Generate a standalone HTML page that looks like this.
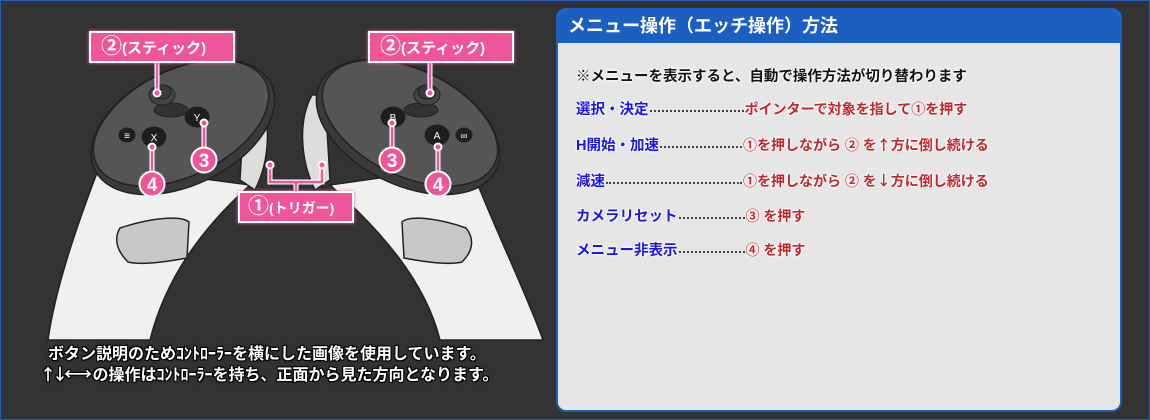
<!DOCTYPE html>
<html><head><meta charset="utf-8"><style>
body{margin:0;width:1150px;height:420px;background:#333;overflow:hidden;position:relative;font-family:"Liberation Sans","Noto Sans CJK JP",sans-serif;}
.frame{position:absolute;left:0;top:0;width:1148px;height:418px;border:1px solid #2a5bb8;}
.panel{position:absolute;left:556px;top:8px;width:562px;height:400px;border:2px solid #1b5fc1;border-radius:10px;background:#e6e6e6;overflow:hidden;}
.hdr{height:33px;background:#1b5fc1;color:#fff;font-weight:bold;font-size:18px;line-height:33px;padding-left:10px;}
.row{position:absolute;left:18px;font-weight:bold;font-size:14.5px;white-space:nowrap;text-shadow:0 0 2px #fff,0 0 2px #fff,0 0 3px #fff;display:flex;align-items:baseline;}
.b{color:#1a14ee}.r{color:#c0262a;font-size:14px}.k{color:#111}
.ar{font-family:"Noto Sans CJK JP",sans-serif;}
.dots{border-bottom:2px dotted #444;margin:0 1px;align-self:center;position:relative;top:2px}
.pl{position:absolute;background:#f0559a;border:2px solid #fff;color:#fff;font-weight:bold;box-shadow:0 0 3px #f7a;white-space:nowrap;box-sizing:border-box;}
.note{position:absolute;left:48px;color:#fff;font-weight:bold;font-size:16px;white-space:nowrap;text-shadow:-1px -1px 0 #000,1px -1px 0 #000,-1px 1px 0 #000,1px 1px 0 #000,0 0 3px #000;}
</style></head><body>
<div class="frame"></div>
<svg width="560" height="420" style="position:absolute;left:0;top:0">
<g stroke="#222" stroke-width="1.5">
<path d="M100,165 C75,230 55,290 48,340 L150,340 C165,280 200,230 250,185 Z" fill="#f0f0f0"/>
<path d="M258,95 C272,120 270,160 255,190 L240,180 L245,95Z" fill="#ddd"/>
<path d="M120,228 C150,218 180,215 189,222 L187,258 C160,263 140,265 128,262 C116,250 114,238 120,228Z" fill="#c8c8c8"/>
<ellipse cx="183" cy="127" rx="98" ry="58" transform="rotate(-26 183 127)" fill="#3a3a3a"/>
<ellipse cx="181" cy="123" rx="94" ry="53" transform="rotate(-26 181 123)" fill="#555"/>
<path d="M470,165 C495,230 525,290 543,340 L440,340 C425,280 380,230 330,185 Z" fill="#f0f0f0"/>
<path d="M312,95 C298,120 300,160 315,190 L330,180 L325,95Z" fill="#ddd"/>
<path d="M466,228 C438,218 410,215 402,222 L404,258 C430,263 450,265 462,262 C474,250 474,238 466,228Z" fill="#c8c8c8"/>
<ellipse cx="408" cy="127" rx="98" ry="58" transform="rotate(26 408 127)" fill="#3a3a3a"/>
<ellipse cx="410" cy="123" rx="94" ry="53" transform="rotate(26 410 123)" fill="#555"/>
</g>
<g stroke="#222">
<ellipse cx="171" cy="110" rx="17" ry="7" fill="#333"/>
<ellipse cx="162" cy="95" rx="13" ry="10" fill="#444"/><ellipse cx="162" cy="92" rx="9" ry="7" fill="#3a3a3a"/>
<ellipse cx="421" cy="110" rx="17" ry="7" fill="#333"/>
<ellipse cx="427" cy="95" rx="13" ry="10" fill="#444"/><ellipse cx="427" cy="92" rx="9" ry="7" fill="#3a3a3a"/>
<ellipse cx="197" cy="117" rx="12" ry="10" fill="#1e1e1e"/>
<ellipse cx="154" cy="137" rx="12" ry="10" fill="#1e1e1e"/>
<ellipse cx="127" cy="135" rx="8" ry="7" fill="#1e1e1e"/>
<ellipse cx="393" cy="117" rx="12" ry="10" fill="#1e1e1e"/>
<ellipse cx="437" cy="135" rx="12" ry="10" fill="#1e1e1e"/>
<ellipse cx="464" cy="135" rx="8" ry="7" fill="#1e1e1e"/>
</g>
<g fill="#fff" font-size="10" font-family="Liberation Sans" text-anchor="middle">
<text x="197" y="121">Y</text><text x="154" y="141">X</text><text x="127" y="139">≡</text>
<text x="393" y="121">B</text><text x="437" y="139">A</text><text x="464" y="139">∞</text>
</g>
<g fill="none" stroke="#fff" stroke-width="5">
<path d="M157,62 V93 M430,62 V93 M204,123 V150 M152,147 V172 M392,123 V150 M438,147 V172 M270,165 V182 H322 V165 M296,182 V192"/>
</g>
<g fill="none" stroke="#f0559a" stroke-width="2.5">
<path d="M157,62 V93 M430,62 V93 M204,123 V150 M152,147 V172 M392,123 V150 M438,147 V172 M270,165 V182 H322 V165 M296,182 V192"/>
</g>
<g fill="#f0559a" stroke="#fff" stroke-width="2">
<circle cx="157" cy="93" r="3.5"/><circle cx="430" cy="93" r="3.5"/><circle cx="204" cy="123" r="3.5"/><circle cx="152" cy="147" r="3.5"/>
<circle cx="392" cy="123" r="3.5"/><circle cx="438" cy="147" r="3.5"/><circle cx="270" cy="165" r="3.5"/><circle cx="322" cy="165" r="3.5"/>
<circle cx="204" cy="160" r="12.5"/><circle cx="152" cy="184" r="12.5"/><circle cx="392" cy="160" r="12.5"/><circle cx="438" cy="184" r="12.5"/>
</g>
<g fill="#fff" font-weight="bold" font-size="19" font-family="Liberation Sans" text-anchor="middle">
<text x="204" y="167">3</text><text x="152" y="191">4</text><text x="392" y="167">3</text><text x="438" y="191">4</text>
</g>
</svg>
<div class="pl" style="left:89px;top:31px;width:146px;height:32px;font-size:15px;line-height:28px;padding-left:10px"><span style="font-size:21px">②</span>(スティック)</div>
<div class="pl" style="left:368px;top:31px;width:146px;height:32px;font-size:15px;line-height:28px;padding-left:10px"><span style="font-size:21px">②</span>(スティック)</div>
<div class="pl" style="left:238px;top:191px;width:116px;height:32px;font-size:14px;line-height:28px;padding-left:8px"><span style="font-size:21px">①</span>(トリガー)</div>
<div class="note" style="top:340px">ボタン説明のためｺﾝﾄﾛｰﾗｰを横にした画像を使用しています。</div>
<div class="note" style="top:361px;left:40px"><span class="ar" style="letter-spacing:-4px">↑↓←→</span> の操作はｺﾝﾄﾛｰﾗｰを持ち、正面から見た方向となります。</div>
<div class="panel">
<div class="hdr">メニュー操作（エッチ操作）方法</div>
<div class="row k" style="top:55px;font-size:14.5px">※メニューを表示すると、自動で操作方法が切り替わります</div>
<div class="row" style="top:88px"><span class="b">選択・決定</span><span class="dots" style="width:94px"></span><span class="r">ポインターで対象を指して①を押す</span></div>
<div class="row" style="top:124px"><span class="b">H開始・加速</span><span class="dots" style="width:82px"></span><span class="r">①を押しながら ② を<span class="ar">↑</span>方に倒し続ける</span></div>
<div class="row" style="top:160px"><span class="b">減速</span><span class="dots" style="width:136px"></span><span class="r">①を押しながら ② を<span class="ar">↓</span>方に倒し続ける</span></div>
<div class="row" style="top:195px"><span class="b">カメラリセット</span><span class="dots" style="width:66px"></span><span class="r">③ を押す</span></div>
<div class="row" style="top:229px"><span class="b">メニュー非表示</span><span class="dots" style="width:66px"></span><span class="r">④ を押す</span></div>
</div>
</body></html>
